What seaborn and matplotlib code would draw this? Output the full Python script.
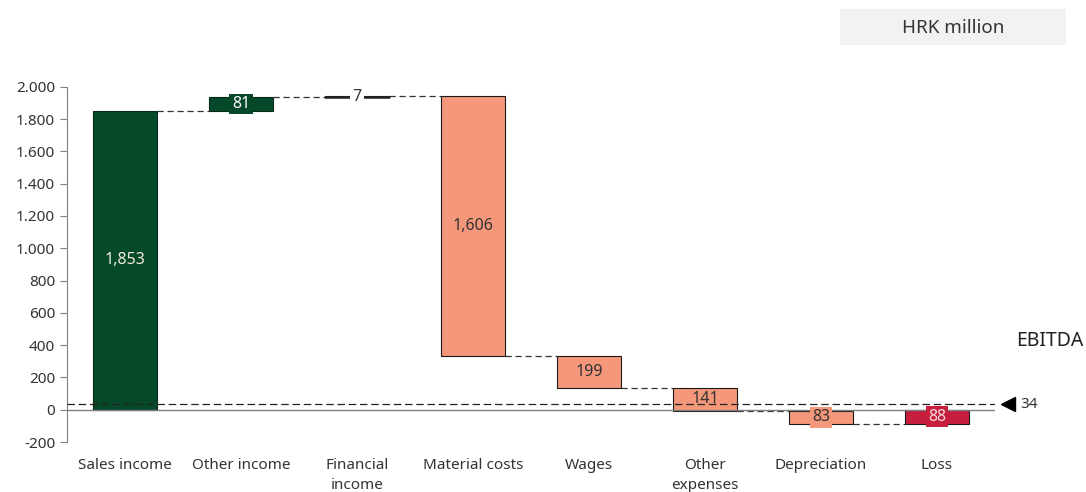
import numpy as np
import pandas as pd
import matplotlib
matplotlib.use("Agg")
import matplotlib.pyplot as plt
from matplotlib.ticker import FuncFormatter, MultipleLocator
import seaborn as sns

# data (HRK million)
categories = ["Sales income", "Other income", "Financial\nincome", "Material costs",
              "Wages", "Other\nexpenses", "Depreciation", "Loss"]
changes = [1853, 81, 7, -1606, -199, -141, -83]
loss_total = -88
ebitda = 34

# colours per bar
green = "#06482A"
salmon = "#F4977A"
red = "#C81E3E"
bar_colors = [green, green, green, salmon, salmon, salmon, salmon, red]
label_colors = ["#EDEDD8", "#FFFFFF", "#333333", "#333333", "#333333", "#333333", "#333333", "#F8DDE2"]
label_bg = [None, green, "white", None, None, None, salmon, red]

# waterfall geometry
ends = list(np.cumsum(changes)) + [loss_total]
starts = [0] + list(np.cumsum(changes)[:-1]) + [0]
heights = [e - s for s, e in zip(starts, ends)]

df = pd.DataFrame({"category": categories, "height": heights})

sns.set_style("white")
plt.rcParams["font.family"] = ["Noto Sans", "DejaVu Sans"]

fig = plt.figure(figsize=(10.86, 4.92), dpi=100)
ax = fig.add_axes([0.0617, 0.1016, 0.8545, 0.722])

w = 0.56
sns.barplot(data=df, x="category", y="height", color=green, width=w, ax=ax)

for i, p in enumerate(ax.patches):
    p.set_y(starts[i])
    p.set_height(heights[i])
    p.set_facecolor(bar_colors[i])
    p.set_edgecolor("#1a1a1a" if bar_colors[i] != green else "#0a2a18")
    p.set_linewidth(0.8)

# connectors
for i in range(len(categories) - 1):
    lvl = ends[i]
    ax.plot([i + w / 2, i + 1 - w / 2], [lvl, lvl], color="#333333", lw=0.9,
            ls=(0, (5, 3)), zorder=1)
# financial income: thin solid line
ax.plot([2 - w / 2, 2 + w / 2], [ends[2] - 3, ends[2] - 3], color="#222222", lw=1.8, zorder=3)

# value labels
for i, h in enumerate(heights):
    mid = starts[i] + h / 2
    txt = f"{abs(h):,}"
    bbox = None
    if label_bg[i] is not None:
        bbox = dict(boxstyle="square,pad=0.15", fc=label_bg[i], ec="none")
    ax.text(i, mid, txt, ha="center", va="center", fontsize=11.5,
            color=label_colors[i], bbox=bbox, zorder=5)

# zero line and EBITDA line
ax.axhline(0, color="#7f7f7f", lw=1.0, zorder=2)
ax.plot([-0.5, 7.5], [ebitda, ebitda], color="#222222", lw=0.9, ls=(0, (6, 3)), zorder=4)
ax.plot([7.61], [ebitda], marker="<", color="black", markersize=10, clip_on=False)
ax.text(7.72, ebitda, str(ebitda), ha="left", va="center", fontsize=11, color="#333333",
        clip_on=False)
fig.text(0.998, 0.307, "EBITDA", fontsize=14, color="#222222", ha="right", va="center")

# unit box
fig.patches.append(plt.Rectangle((0.7735, 0.908), 0.2082, 0.073, transform=fig.transFigure,
                                 fc="#F2F2F2", ec="none"))
fig.text(0.8775, 0.944, "HRK million", fontsize=13.5, color="#333333", ha="center", va="center")

# axes styling
ax.set_xlim(-0.5, 7.5)
ax.set_ylim(-200, 2000)
ax.yaxis.set_major_locator(MultipleLocator(200))
ax.yaxis.set_major_formatter(FuncFormatter(lambda v, _: f"{v:,.0f}".replace(",", ".")))
ax.set_xlabel("")
ax.set_ylabel("")
sns.despine(ax=ax, bottom=True)
ax.spines["left"].set_color("#7f7f7f")
ax.tick_params(axis="y", left=True, length=5, color="#7f7f7f", labelsize=11, labelcolor="#333333")
ax.tick_params(axis="x", bottom=False, labelsize=11, labelcolor="#333333", pad=8)
for lab in ax.get_xticklabels():
    lab.set_linespacing(1.45)

fig.savefig("out.png", dpi=100)
